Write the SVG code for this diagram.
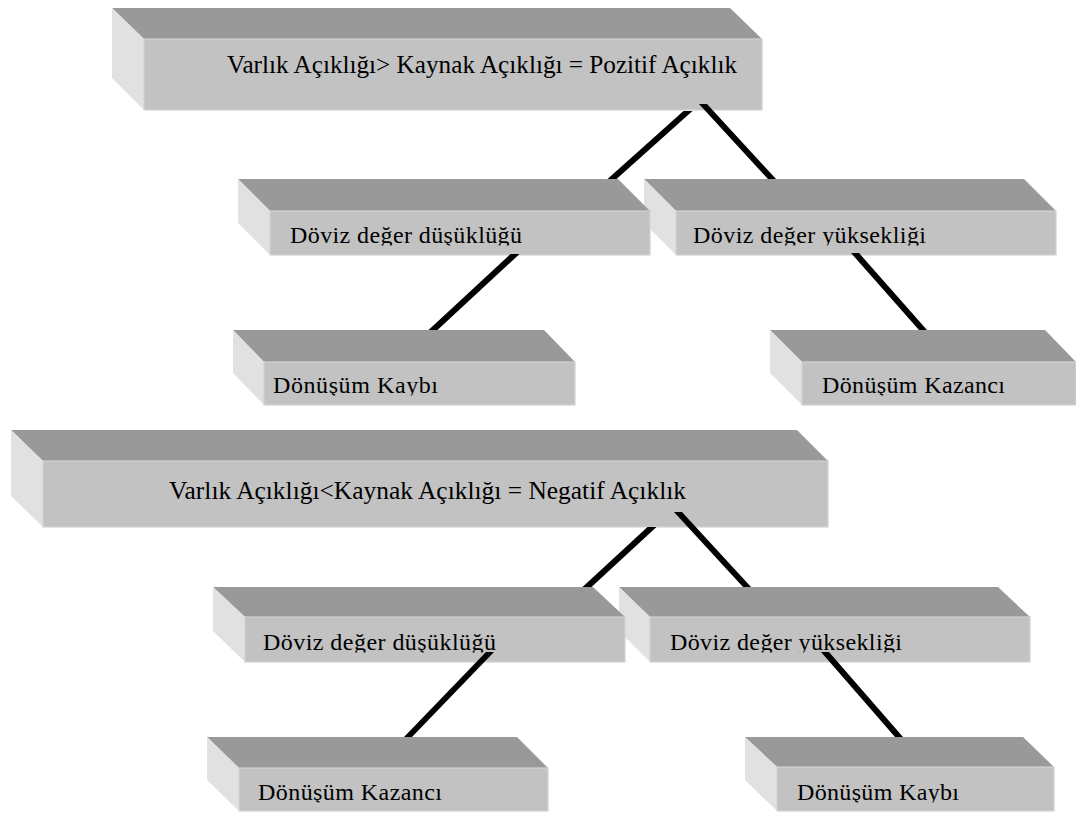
<svg xmlns="http://www.w3.org/2000/svg" width="1076" height="813" viewBox="0 0 1076 813">
  <style>
    .top { fill: #999999; }
    .side { fill: #e1e1e1; }
    .front { fill: #c2c2c2; stroke: #d2d2d2; stroke-width: 1.2; }
    .lbl { font-family: "Liberation Serif", "Times New Roman", serif; fill: #000000; }
    .big { font-size: 25px; }
    .small { font-size: 24px; }
    .conn { fill: #000000; }
  </style>
  <defs>
    <clipPath id="clipRow1"><rect x="0" y="0" width="1076" height="245.5"/></clipPath>
    <clipPath id="clipRow2"><rect x="0" y="0" width="1076" height="395.5"/></clipPath>
    <clipPath id="clipRow3"><rect x="0" y="0" width="1076" height="652.5"/></clipPath>
    <clipPath id="clipRow4"><rect x="0" y="0" width="1076" height="802.5"/></clipPath>
  </defs>
  <rect x="0" y="0" width="1076" height="813" fill="#ffffff"/>

  <!-- Upper tree -->
  <g id="node-pozitif">
    <polygon class="top" points="112,8 730,8 762,39 144,39"/>
    <polygon class="side" points="112,8 144,39 144,110 112,78"/>
    <rect class="front" x="144" y="39" width="618" height="71"/>
    <text class="lbl big" font-family="Liberation Serif, serif" x="227" y="73" textLength="510" lengthAdjust="spacingAndGlyphs">Varlık Açıklığı&gt; Kaynak Açıklığı = Pozitif Açıklık</text>
  </g>

  <g id="node-yukseklik-1">
    <polygon class="top" points="644,179 1024,179 1056,211 676,211"/>
    <polygon class="side" points="644,179 676,211 676,255 644,223"/>
    <rect class="front" x="676" y="211" width="380" height="44"/>
    <text class="lbl small" x="693" y="243" textLength="233" clip-path="url(#clipRow1)">Döviz değer yüksekliği</text>
  </g>

  <g id="node-dusukluk-1">
    <polygon class="top" points="238,179 618,179 650,211 270,211"/>
    <polygon class="side" points="238,179 270,211 270,255 238,223"/>
    <rect class="front" x="270" y="211" width="380" height="44"/>
    <text class="lbl small" x="290" y="243" textLength="232" clip-path="url(#clipRow1)">Döviz değer düşüklüğü</text>
  </g>

  <g id="node-kayip-1">
    <polygon class="top" points="233,330 544,330 575,362 264,362"/>
    <polygon class="side" points="233,330 264,362 264,405 233,373"/>
    <rect class="front" x="264" y="362" width="311" height="43"/>
    <text class="lbl small" x="273" y="393" textLength="165" clip-path="url(#clipRow2)">Dönüşüm Kaybı</text>
  </g>

  <g id="node-kazanc-1">
    <polygon class="top" points="770,330 1045,330 1076,362 802,362"/>
    <polygon class="side" points="770,330 802,362 802,405 770,373"/>
    <rect class="front" x="802" y="362" width="274" height="43"/>
    <text class="lbl small" x="822" y="393" textLength="183" clip-path="url(#clipRow2)">Dönüşüm Kazancı</text>
  </g>

  <!-- Lower tree -->
  <g id="node-negatif">
    <polygon class="top" points="11,430 797,430 828,461 43,461"/>
    <polygon class="side" points="11,430 43,461 43,527 11,496"/>
    <rect class="front" x="43" y="461" width="785" height="66"/>
    <text class="lbl big" x="169" y="499" textLength="517" lengthAdjust="spacingAndGlyphs">Varlık Açıklığı&lt;Kaynak Açıklığı = Negatif Açıklık</text>
  </g>

  <g id="node-yukseklik-2">
    <polygon class="top" points="619,587 998,587 1030,617 650,617"/>
    <polygon class="side" points="619,587 650,617 650,662 619,631"/>
    <rect class="front" x="650" y="617" width="380" height="45"/>
    <text class="lbl small" x="670" y="650" textLength="232" clip-path="url(#clipRow3)">Döviz değer yüksekliği</text>
  </g>

  <g id="node-dusukluk-2">
    <polygon class="top" points="213,587 593,587 625,617 245,617"/>
    <polygon class="side" points="213,587 245,617 245,662 213,631"/>
    <rect class="front" x="245" y="617" width="380" height="45"/>
    <text class="lbl small" x="263" y="650" textLength="233" clip-path="url(#clipRow3)">Döviz değer düşüklüğü</text>
  </g>

  <g id="node-kazanc-2">
    <polygon class="top" points="207,737 517,737 548,768 239,768"/>
    <polygon class="side" points="207,737 239,768 239,811 207,780"/>
    <rect class="front" x="239" y="768" width="309" height="43"/>
    <text class="lbl small" x="258" y="800" textLength="184" clip-path="url(#clipRow4)">Dönüşüm Kazancı</text>
  </g>

  <g id="node-kayip-2">
    <polygon class="top" points="745,737 1023,737 1054,767 777,767"/>
    <polygon class="side" points="745,737 777,767 777,811 745,780"/>
    <rect class="front" x="777" y="767" width="277" height="44"/>
    <text class="lbl small" x="797" y="800" textLength="162" clip-path="url(#clipRow4)">Dönüşüm Kaybı</text>
  </g>

  <!-- Connectors -->
  <g id="connectors">
    <polygon class="conn" points="683.5,111 692.5,111 616.5,179 607.5,179"/>
    <polygon class="conn" points="699,104 707,104 776,179 768,179"/>
    <polygon class="conn" points="510.5,254 519.5,254 437.5,330 428.5,330"/>
    <polygon class="conn" points="851,253 859,253 927,330 919,330"/>
    <polygon class="conn" points="647.5,527 656.5,527 591.5,587 582.5,587"/>
    <polygon class="conn" points="674,512 682,512 751,587 743,587"/>
    <polygon class="conn" points="486,652 494,652 412,737 404,737"/>
    <polygon class="conn" points="821,652 829,652 903,737 895,737"/>
  </g>
</svg>
